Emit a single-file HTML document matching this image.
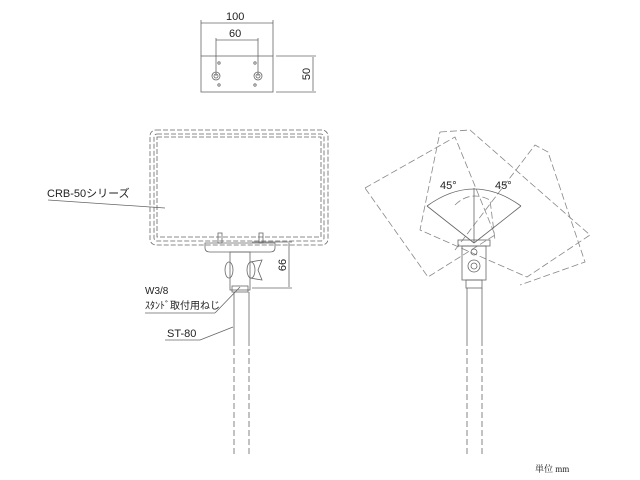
<!DOCTYPE html>
<html><head><meta charset="utf-8"><style>
html,body{margin:0;padding:0;background:#fff;width:640px;height:480px;overflow:hidden}
text{font-family:"Liberation Sans","Noto Sans CJK JP",sans-serif;fill:#222}
</style></head><body>
<svg width="640" height="480" viewBox="0 0 640 480" xmlns="http://www.w3.org/2000/svg">
<g stroke="#666" stroke-width="0.8" fill="none">
<!-- top view -->
<rect x="201" y="56" width="72" height="36"/>
<line x1="201" y1="56" x2="201" y2="20"/><line x1="273" y1="56" x2="273" y2="20"/>
<line x1="201" y1="23" x2="273" y2="23"/>
<line x1="216" y1="76" x2="216" y2="38"/><line x1="258" y1="76" x2="258" y2="38"/>
<line x1="216" y1="40" x2="258" y2="40"/>
<circle cx="216" cy="76" r="4"/><circle cx="216" cy="76" r="2"/>
<circle cx="258" cy="76" r="4"/><circle cx="258" cy="76" r="2"/>
<circle cx="219" cy="63" r="1.2"/><circle cx="255" cy="63" r="1.2"/>
<circle cx="219" cy="85" r="1.2"/><circle cx="255" cy="85" r="1.2"/>
<line x1="276" y1="56" x2="316" y2="56"/><line x1="276" y1="92" x2="316" y2="92"/>
<line x1="313" y1="57" x2="313" y2="91"/>
<!-- front view -->
<rect x="150" y="130" width="178" height="115" rx="6" stroke-dasharray="5,2"/>
<rect x="154" y="134" width="170" height="107" rx="3" stroke-dasharray="5,2"/>
<rect x="157" y="137" width="164" height="100" stroke-dasharray="5,2"/>
<path d="M205 243 H275 V248 Q275 252 270 252 H210 Q205 252 205 248 Z"/>
<rect x="218" y="233" width="4" height="10"/><rect x="259" y="233" width="4" height="10"/>
<rect x="230" y="252" width="20" height="38"/>
<ellipse cx="229" cy="270" rx="4" ry="8"/><ellipse cx="251" cy="270" rx="4" ry="8"/>
<path d="M250 262 L262 260 L258 270 L262 280 L250 278"/>
<rect x="232" y="286" width="16" height="6"/>
<line x1="234" y1="292" x2="234" y2="340"/><line x1="249" y1="292" x2="249" y2="340"/>
<line x1="234" y1="340" x2="234" y2="455" stroke-dasharray="6,3"/><line x1="249" y1="340" x2="249" y2="455" stroke-dasharray="6,3"/>
<line x1="252" y1="242" x2="292" y2="242"/><line x1="252" y1="288" x2="292" y2="288"/>
<line x1="289" y1="243" x2="289" y2="287"/>
<line x1="48" y1="200" x2="165" y2="208"/>
<line x1="145" y1="313" x2="215" y2="313"/><line x1="215" y1="313" x2="240" y2="287"/>
<line x1="165" y1="340" x2="200" y2="340"/><line x1="200" y1="340" x2="233" y2="327"/>
<!-- side view -->
<g stroke-dasharray="7,3" stroke="#888">
<path d="M365 188 L455 137 L495 235 L428 277 Z" stroke-linejoin="round"/>
<path d="M440 132 L470 130 L590 235 L527 277 L420 230 Z" stroke-linejoin="round"/>
<path d="M455 250 L535 145 L548 152 L585 262 L520 285"/>
<path d="M455 205 Q470 190 490 200 L495 240"/>
</g>
<line x1="474" y1="243" x2="427" y2="206"/><line x1="474" y1="243" x2="521" y2="206"/>
<line x1="474" y1="243" x2="474" y2="188"/>
<path d="M427 206 Q474 172 521 206"/>
<rect x="458" y="240" width="32" height="6"/>
<rect x="462" y="246" width="24" height="34"/>
<circle cx="474" cy="266" r="6"/><circle cx="474" cy="266" r="3"/>
<circle cx="474" cy="252" r="3"/>
<rect x="466" y="280" width="16" height="8"/>
<line x1="467" y1="288" x2="467" y2="340"/><line x1="482" y1="288" x2="482" y2="340"/>
<line x1="467" y1="340" x2="467" y2="455" stroke-dasharray="6,3"/><line x1="482" y1="340" x2="482" y2="455" stroke-dasharray="6,3"/>
</g>
<text x="226" y="20" font-size="11">100</text>
<text x="229" y="37" font-size="11">60</text>
<text transform="translate(310,74) rotate(-90)" font-size="11" text-anchor="middle">50</text>
<text transform="translate(286,265) rotate(-90)" font-size="11" text-anchor="middle">66</text>
<text x="47" y="197" font-size="11">CRB-50シリーズ</text>
<text x="145" y="294" font-size="10">W3/8</text>
<text x="145" y="309" font-size="10">ｽﾀﾝﾄﾞ取付用ねじ</text>
<text x="167" y="337" font-size="11">ST-80</text>
<text x="440" y="189" font-size="11">45°</text>
<text x="495" y="189" font-size="11">45°</text>
<text x="535" y="472" font-size="9" style="font-family:'Liberation Serif','Noto Serif CJK SC',serif">単位 mm</text>
</svg>
</body></html>
